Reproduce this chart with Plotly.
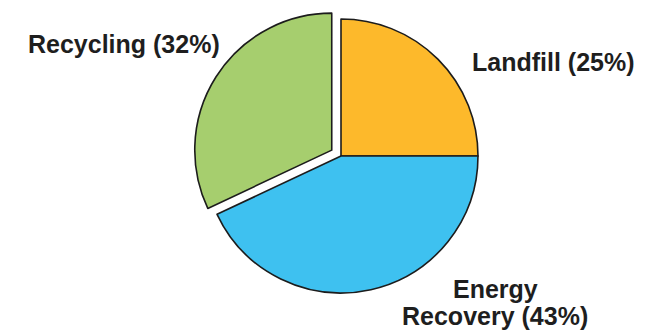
import plotly.graph_objects as go

categories = ["Landfill", "Energy Recovery", "Recycling"]
values = [25, 43, 32]
label_lines = [["Landfill (25%)"], ["Energy", "Recovery (43%)"], ["Recycling (32%)"]]

colors = ["#FDB92B", "#3EC1F0", "#A6CE6E"]
pulls = [0, 0, 0.08]

# the page body has an 8px margin, so the figure is drawn 8px in from the window edge
OFF = 8
W, H = 645 - OFF, 332 - OFF

# pie centre and radius as seen in the window (pixels)
cx, cy = 341 - OFF, 156 - OFF
half_y = cy - 0.05           # keep top of domain inside [0, 1]
half_x = half_y

fig = go.Figure(go.Pie(
    labels=categories,
    values=values,
    sort=False,
    direction="clockwise",
    rotation=0,
    pull=pulls,
    textinfo="none",
    hoverinfo="label+percent",
    marker=dict(colors=colors, line=dict(color="#1c1c1c", width=1.6)),
    domain=dict(x=[(cx - half_x) / W, (cx + half_x) / W],
                y=[1 - (cy + half_y) / H, min(1.0, 1 - (cy - half_y) / H)]),
    showlegend=False,
))

# label positions in window pixels (center x, cap-centre y)
label_pos = [[(553, 62)], [(495, 289), (495, 316)], [(124, 44)]]

for lines, poss in zip(label_lines, label_pos):
    for txt, (px, py) in zip(lines, poss):
        fig.add_annotation(
            x=(px - OFF) / W, y=1 - (py - OFF) / H, xref="paper", yref="paper",
            text="<b>%s</b>" % txt, showarrow=False,
            xanchor="center", yanchor="middle",
            font=dict(family="Arial, Liberation Sans, sans-serif", size=25, color="#1e1e1e"),
        )

fig.update_layout(
    width=W, height=H,
    margin=dict(l=0, r=0, t=0, b=0),
    paper_bgcolor="white",
    plot_bgcolor="white",
)

fig.write_html("out.html")
